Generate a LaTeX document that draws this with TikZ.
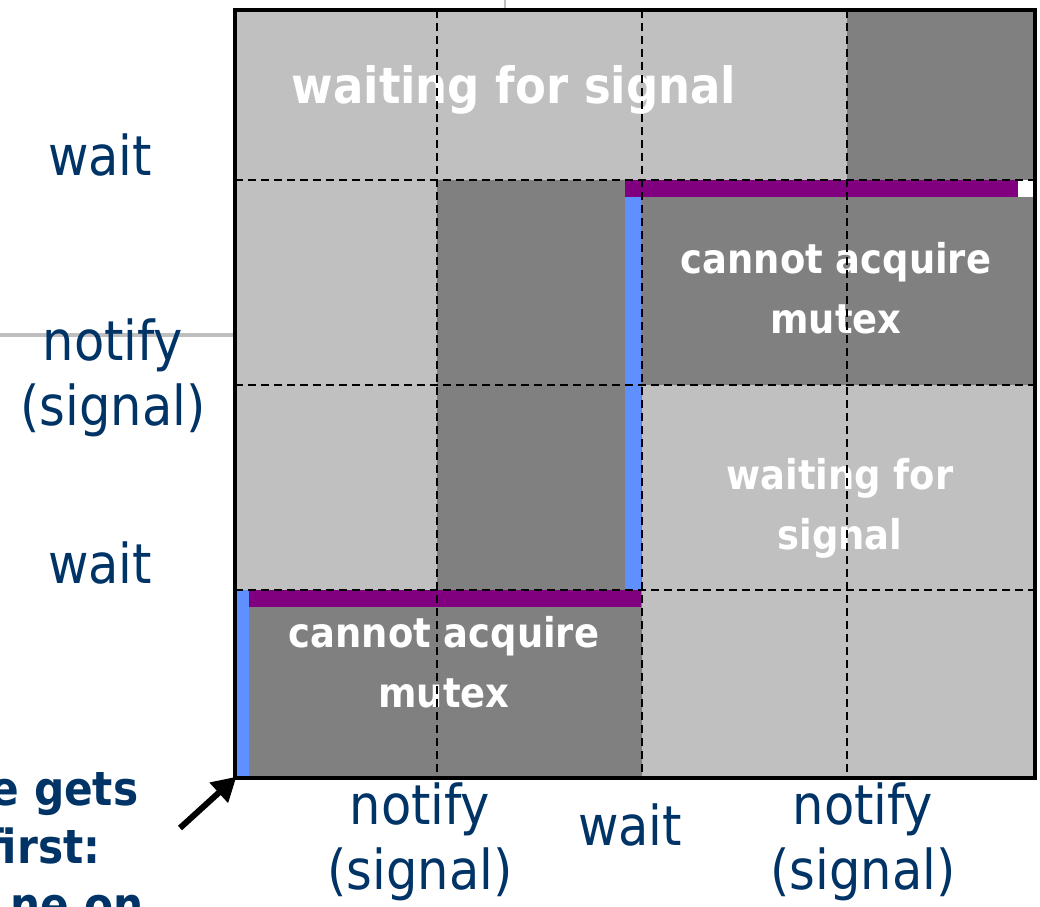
\documentclass[tikz,border=0pt]{standalone}
\usepackage{fontspec}
\setmainfont{DejaVu Sans Condensed}
\usepackage{tikz}
\usetikzlibrary{arrows.meta}
\definecolor{lightcell}{RGB}{192,192,192}
\definecolor{darkcell}{RGB}{128,128,128}
\definecolor{lockblue}{RGB}{96,144,255}
\definecolor{lockpurple}{RGB}{128,0,128}
\definecolor{labelblue}{RGB}{0,51,102}

\begin{document}
\begin{tikzpicture}[x=1pt,y=-1pt]
\tikzstyle{axis}=[text=labelblue, align=center, font=\fontsize{55}{65}\selectfont]
\tikzstyle{state}=[text=white, align=center, font=\bfseries\fontsize{41}{60}\selectfont]
\tikzstyle{gridline}=[line width=2.6pt, dash pattern=on 8pt off 5pt]

\useasboundingbox (0,0) rectangle (1040,906);
\clip (0,0) rectangle (1040,906);

% leftovers of the slide behind
\draw[black!25, line width=4pt] (0,335) -- (233,335);
\draw[black!25, line width=2pt] (505,0) -- (505,10);

\coordinate (nw) at (235,10);
\coordinate (se) at (1035,778);
\coordinate (sw) at (235,778);

% cells
\fill[lightcell] (nw) rectangle (se);
\fill[darkcell] (847,10) rectangle (1035,180);
\fill[darkcell] (437,180) rectangle (1035,385);
\fill[darkcell] (437,385) rectangle (642,590);
\fill[darkcell] (235,590) rectangle (642,778);

% who holds the mutex
\fill[lockpurple] (625,180) rectangle (1018,197);
\fill[white] (1018,180) rectangle (1035,197);
\fill[lockblue] (625,197) rectangle (641,590);
\fill[lockpurple] (249,590) rectangle (641,607);
\fill[lockblue] (235,590) rectangle (249,778);

\node[state, font=\bfseries\fontsize{50}{60}\selectfont] (title) at (514,90) {waiting for signal};
\node[state] (blockedtop) at (836,288) {cannot acquire\\mutex};
\node[state] (waitmid) at (840,508) {waiting for\\signal};
\node[state] (blockedlow) at (444,662) {cannot acquire\\mutex};

\foreach \x in {437,642,847}
  \draw[gridline] (\x,10) -- (\x,778);
\foreach \y in {180,385,590}
  \draw[gridline] (235,\y) -- (1035,\y);
\draw[line width=3.5pt] (nw) rectangle (se);

% thread A
\node[axis] (waita) at (100,155) {wait};
\node[axis] (notifya) at (113,378) {notify\\(signal)};
\node[axis] (waitb) at (100,563) {wait};
% thread B
\node[axis] (notifyb) at (420,842) {notify\\(signal)};
\node[axis] (waitc) at (630,825) {wait};
\node[axis] (notifyc) at (863,842) {notify\\(signal)};

\node[text=labelblue, font=\bfseries\fontsize{47}{58}\selectfont, anchor=base east] (gets) at (142,805) {e gets};
\node[text=labelblue, font=\bfseries\fontsize{47}{58}\selectfont, anchor=base east] (first) at (104,863) {first:};
\node[text=labelblue, font=\bfseries\fontsize{47}{58}\selectfont, anchor=base east] (oneon) at (147,921) {ne on};
\coordinate (tail) at (180,828);
\draw[-{Triangle[length=24pt,width=26pt]}, line width=6pt, shorten >=-2pt] (tail) -- (sw);
\end{tikzpicture}
\end{document}
